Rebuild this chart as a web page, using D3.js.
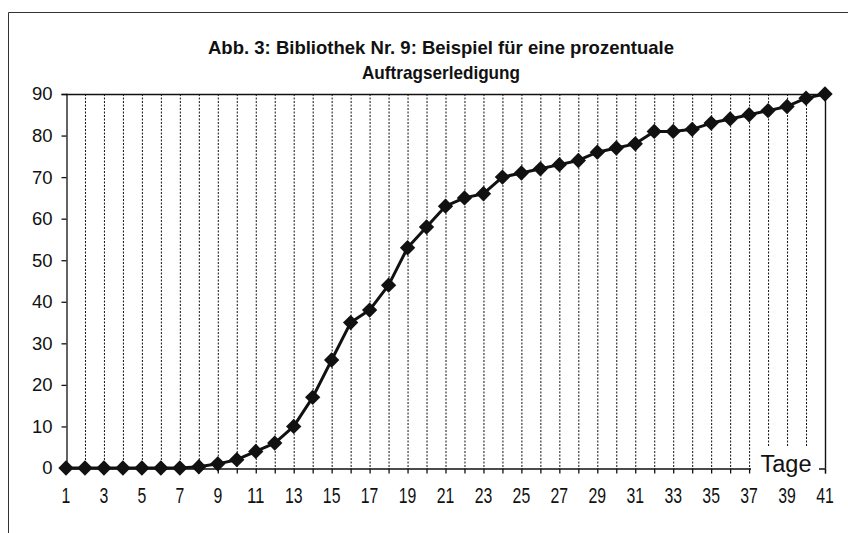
<!DOCTYPE html>
<html>
<head>
<meta charset="utf-8">
<script src="https://cdn.jsdelivr.net/npm/d3@7"></script>
<style>
	body { margin: 0; background: #fff; }
	svg { display: block; font-family: 'Liberation Sans', Arial, sans-serif; }
</style>
</head>
<body>
<svg id="chart" width="848" height="533"></svg>
<script>
// Tage (x categories)
const days = [1, 2, 3, 4, 5, 6, 7, 8, 9, 10, 11, 12, 13, 14, 15, 16, 17, 18, 19, 20,
	21, 22, 23, 24, 25, 26, 27, 28, 29, 30, 31, 32, 33, 34, 35, 36, 37, 38, 39, 40, 41]
// prozentuale Auftragserledigung
const percent = [0, 0, 0, 0, 0, 0, 0, 0.3, 1, 2, 4, 6, 10, 17, 26, 35, 38, 44, 53, 58,
	63, 65, 66, 70, 71, 72, 73, 74, 76, 77, 78, 81, 81, 81.5, 83, 84, 85, 86, 87, 89, 90]
const xTickLabels = [1, 3, 5, 7, 9, 11, 13, 15, 17, 19, 21, 23, 25, 27, 29, 31, 33, 35, 37, 39, 41]
const yTickLabels = [0, 10, 20, 30, 40, 50, 60, 70, 80, 90]
const titleLines = ['Abb. 3: Bibliothek Nr. 9: Beispiel für eine prozentuale', 'Auftragserledigung']
const xAxisTitle = 'Tage'

const svg = d3.select('#chart')
const ink = '#111'

const x = d3.scaleLinear().domain([1, 41]).range([66, 825])
const y = d3.scaleLinear().domain([0, 90]).range([468, 94])

// outer frame (only top and left visible in the scan)
svg.append('path')
	.attr('d', 'M8.5,533 V12.5 H848')
	.attr('fill', 'none')
	.attr('stroke', '#333')
	.attr('stroke-width', 1)

// title
svg.append('g')
	.selectAll('text')
	.data(titleLines)
	.join('text')
	.attr('x', 441)
	.attr('y', (d, i) => 54 + i * 25)
	.attr('text-anchor', 'middle')
	.attr('font-size', 19)
	.attr('font-weight', 'bold')
	.attr('fill', ink)
	.attr('textLength', (d, i) => (i === 0 ? 466 : 158))
	.attr('lengthAdjust', 'spacingAndGlyphs')
	.text(d => d)

// vertical dotted gridlines
svg.append('g')
	.selectAll('line')
	.data(days.slice(1, -1))
	.join('line')
	.attr('x1', d => x(d) + 0.5)
	.attr('x2', d => x(d) + 0.5)
	.attr('y1', y(90))
	.attr('y2', y(0))
	.attr('stroke', ink)
	.attr('stroke-width', 1)
	.attr('stroke-dasharray', '2,1.5')

// x axis
const xAxis = d3.axisBottom(x)
	.tickValues(days)
	.tickSize(5)
	.tickFormat('')
svg.append('g')
	.attr('transform', `translate(0,${y(0) + 0.5})`)
	.call(xAxis)
	.call(g => g.selectAll('path, line').attr('stroke', ink).attr('stroke-width', 1.3))

svg.append('g')
	.selectAll('text')
	.data(xTickLabels)
	.join('text')
	.attr('x', d => x(d))
	.attr('y', 503)
	.attr('text-anchor', 'middle')
	.attr('font-size', 22)
	.attr('fill', ink)
	.attr('textLength', d => String(d).length * 8.8)
	.attr('lengthAdjust', 'spacingAndGlyphs')
	.text(d => d)

// y axis
const yAxis = d3.axisLeft(y)
	.tickValues(yTickLabels)
	.tickSize(5)
	.tickPadding(9)
svg.append('g')
	.attr('transform', `translate(${x(1) + 0.5},0)`)
	.call(yAxis)
	.call(g => g.selectAll('path, line').attr('stroke', ink).attr('stroke-width', 1.3))
	.call(g => g.selectAll('text')
		.attr('font-size', 18.5)
		.attr('font-family', "'Liberation Sans', Arial, sans-serif")
		.attr('fill', ink))

// plot frame top and right
svg.append('path')
	.attr('d', `M${x(1)},${y(90) + 0.5} H${x(41) + 0.5} V${y(0)}`)
	.attr('fill', 'none')
	.attr('stroke', ink)
	.attr('stroke-width', 1.4)

// "Tage" label with white box over axis
svg.append('rect')
	.attr('x', 751)
	.attr('y', 447)
	.attr('width', 68)
	.attr('height', 29)
	.attr('fill', '#fff')
svg.append('text')
	.attr('x', 786)
	.attr('y', 472)
	.attr('text-anchor', 'middle')
	.attr('font-size', 23.5)
	.attr('fill', ink)
	.text(xAxisTitle)

// series line and diamond markers
const points = days.map((d, i) => ({ day: d, value: percent[i] }))

svg.append('path')
	.datum(points)
	.attr('fill', 'none')
	.attr('stroke', ink)
	.attr('stroke-width', 3)
	.attr('stroke-linejoin', 'round')
	.attr('d', d3.line().x(d => x(d.day)).y(d => y(d.value)))

svg.append('g')
	.selectAll('path')
	.data(points)
	.join('path')
	.attr('transform', d => `translate(${x(d.day)},${y(d.value)})`)
	.attr('d', d3.symbol(d3.symbolDiamond2, 150))
	.attr('fill', ink)
</script>
</body>
</html>
